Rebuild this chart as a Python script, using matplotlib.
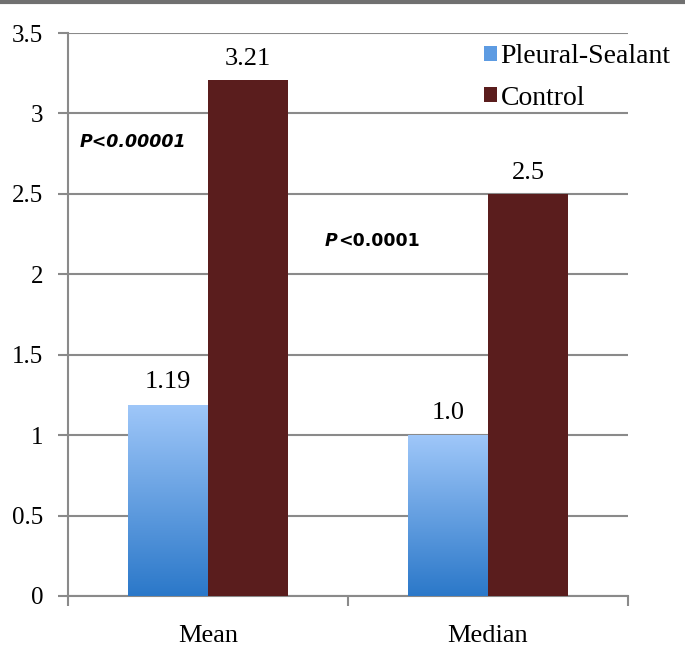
import numpy as np
import matplotlib
matplotlib.use('Agg')
import matplotlib.pyplot as plt
from matplotlib.lines import Line2D
from matplotlib.patches import Patch

categories = ['Mean', 'Median']
sealant = [1.19, 1.0]
control = [3.21, 2.5]
sealant_labels = ['1.19', '1.0']
control_labels = ['3.21', '2.5']
y_ticks = [0, 0.5, 1, 1.5, 2, 2.5, 3, 3.5]
y_tick_labels = ['0', '0.5', '1', '1.5', '2', '2.5', '3', '3.5']

serif = 'Liberation Serif'
grid_col = '#8a8a8a'
ctrl_col = '#5a1d1d'

fig = plt.figure(figsize=(6.85, 6.6), dpi=100)
ax = fig.add_axes([68 / 685, 1 - 596 / 660, 560 / 685, 563 / 660])

x = np.arange(len(categories))
w = 0.287

# light-to-dark blue gradient for the sealant bars
grad = np.linspace(0, 1, 256).reshape(-1, 1)
cmap = matplotlib.colors.LinearSegmentedColormap.from_list('bl', ['#2b78c9', '#9fc7f9'])
for xi, v in zip(x, sealant):
    b = ax.bar(xi - w / 2, v, w, color='none', edgecolor='none', zorder=3)[0]
    im = ax.imshow(grad, cmap=cmap, aspect='auto', origin='lower',
                   extent=[xi - w, xi, 0, v], zorder=3)
    im.set_clip_path(b)

ax.bar(x + w / 2, control, w, color=ctrl_col, zorder=3)

for xi, v, s in zip(x, sealant, sealant_labels):
    ax.annotate(s, (xi - w / 2, v), xytext=(0, 8), textcoords='offset points',
                ha='center', va='bottom', fontsize=19, family=serif)
for xi, v, s in zip(x, control, control_labels):
    ax.annotate(s, (xi + w / 2, v), xytext=(0, 7), textcoords='offset points',
                ha='center', va='bottom', fontsize=19, family=serif)

ax.set_xlim(-0.5, 1.5)
ax.set_ylim(0, 3.5)
ax.set_yticks(y_ticks)
ax.set_yticklabels(y_tick_labels, fontsize=18, family=serif)
ax.set_xticks(x)
ax.set_xticklabels(categories, fontsize=19, family=serif)
ax.set_xticks([-0.5, 0.5, 1.5], minor=True)
ax.tick_params(axis='x', which='major', length=0, pad=21)
ax.tick_params(axis='x', which='minor', length=7, color=grid_col, width=1.5)
ax.tick_params(axis='y', length=7, color=grid_col, width=1.5, pad=11)
ax.grid(axis='y', color=grid_col, linewidth=1.5, zorder=0)
ax.set_axisbelow(True)
for side in ['top', 'right']:
    ax.spines[side].set_visible(False)
for side in ['left', 'bottom']:
    ax.spines[side].set_color(grid_col)
    ax.spines[side].set_linewidth(1.5)

# p-values
ax.text(-0.457, 2.82, 'P<0.00001', fontsize=12.5, fontweight='bold', fontstyle='italic',
        family='DejaVu Sans', va='center')
t1 = ax.text(0.418, 2.21, 'P', fontsize=12.5, fontweight='bold', fontstyle='italic',
             family='DejaVu Sans', va='center')
ax.annotate('<0.0001', xy=(1, 0), xycoords=t1, va='bottom', ha='left',
            fontsize=12.5, fontweight='bold', family='DejaVu Sans')

handles = [Patch(facecolor='#5d9be2'), Patch(facecolor=ctrl_col)]
fig.legend(handles, ['Pleural-Sealant', 'Control'], loc='upper left',
           bbox_to_anchor=(484 / 685, 1 - 44 / 660), frameon=False,
           prop={'family': serif, 'size': 20}, handlelength=0.45, handleheight=0.45,
           handletextpad=0.15, labelspacing=0.6, borderaxespad=0, borderpad=0)

# grey rule across the top of the image
fig.add_artist(Line2D([0, 1], [0.997, 0.997], color='#707070', linewidth=3, transform=fig.transFigure))

fig.savefig('out.png', dpi=100)
